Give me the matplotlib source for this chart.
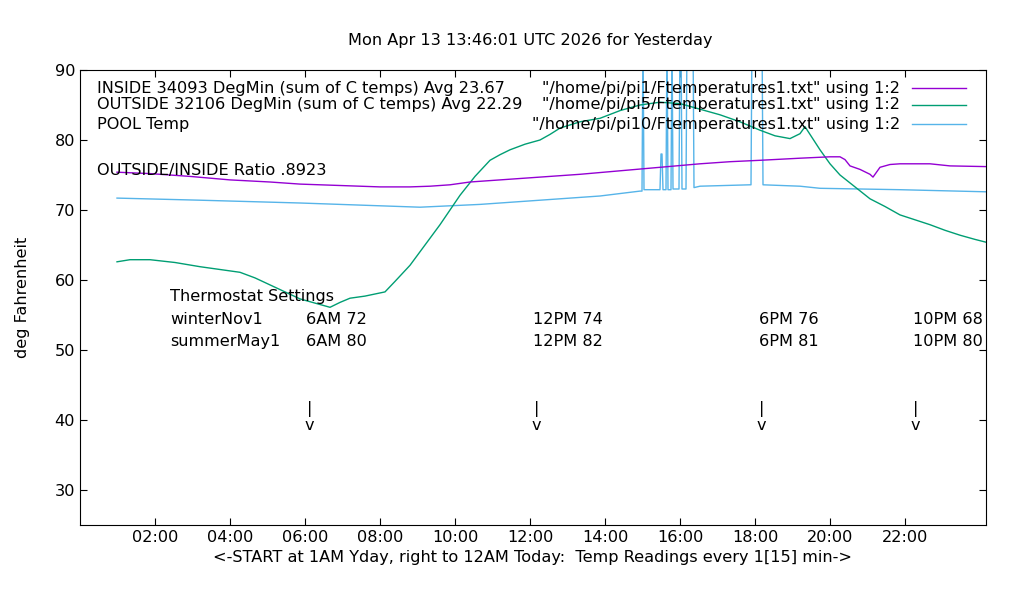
import matplotlib
matplotlib.use("Agg")
import matplotlib.pyplot as plt

def px2h(x):
    return (x - 80) / 37.5

# INSIDE (purple)
inside_px = [117,150,190,230,270,300,340,380,410,430,450,470,500,540,580,620,660,700,730,760,800,830,840,845,850,860,870,873,876,880,890,900,930,950,986]
inside_val = [75.4,75.2,74.8,74.3,74.0,73.7,73.5,73.3,73.3,73.4,73.6,74.0,74.3,74.7,75.1,75.6,76.1,76.6,76.9,77.1,77.4,77.6,77.6,77.2,76.3,75.8,75.1,74.7,75.3,76.1,76.5,76.6,76.6,76.3,76.2]

# OUTSIDE (teal)
outside_px = [117,130,150,175,200,220,240,255,270,285,300,315,330,340,350,365,385,395,410,425,440,450,460,475,490,500,510,525,540,550,560,580,600,620,640,660,680,700,720,740,760,775,790,800,805,810,820,830,840,855,870,885,900,915,930,945,960,975,986]
outside_val = [62.6,62.9,62.9,62.5,61.9,61.5,61.1,60.3,59.3,58.3,57.3,56.7,56.1,56.8,57.4,57.7,58.3,59.8,62.1,65.0,67.9,70.0,72.1,74.8,77.1,77.9,78.6,79.4,80.0,80.8,81.7,82.6,83.1,84.2,85.0,85.4,85.2,84.4,83.6,82.6,81.4,80.6,80.2,80.9,81.9,80.8,78.6,76.6,75.0,73.3,71.6,70.5,69.3,68.6,67.9,67.1,66.4,65.8,65.4]

# POOL (blue) with sensor spikes
pool_px = [117,200,300,360,420,480,540,600,640,642,643,644,660,661,662,663,666,667,668,671,672,673,679,680,681,682,686,687,693,694,700,750,751,752,762,763,800,820,900,986]
pool_val = [71.7,71.4,71.0,70.7,70.4,70.8,71.4,72.0,72.7,72.7,95.0,72.9,72.9,78.0,78.0,72.9,72.9,95.0,72.9,72.9,95.0,73.0,73.0,95.0,95.0,73.0,73.0,95.0,95.0,73.2,73.4,73.6,73.6,95.0,95.0,73.6,73.4,73.1,72.9,72.6]

inside_h = [px2h(x) for x in inside_px]
outside_h = [px2h(x) for x in outside_px]
pool_h = [px2h(x) for x in pool_px]

xticks = [2, 4, 6, 8, 10, 12, 14, 16, 18, 20, 22]
xlabels = ["02:00", "04:00", "06:00", "08:00", "10:00", "12:00", "14:00", "16:00", "18:00", "20:00", "22:00"]
yticks = [30, 40, 50, 60, 70, 80, 90]

FS = 11.6
fig = plt.figure(figsize=(10.2, 6.0), dpi=100)
ax = fig.add_axes([80/1020, 75/600, 906/1020, 455/600])
ax.set_xlim(0, px2h(986))
ax.set_ylim(25, 90)

ax.plot(pool_h, pool_val, color="#56b4e9", lw=1)
ax.plot(outside_h, outside_val, color="#009e73", lw=1)
ax.plot(inside_h, inside_val, color="#9400d3", lw=1)

ax.set_xticks(xticks)
ax.set_xticklabels(xlabels)
ax.set_yticks(yticks)
ax.tick_params(direction="in", top=True, right=True, labelsize=FS, length=5)
ax.set_xlabel("<-START at 1AM Yday, right to 12AM Today:  Temp Readings every 1[15] min->", fontsize=FS)
ax.set_ylabel("deg Fahrenheit", fontsize=FS, labelpad=18)
fig.text(0.52, 1 - 41/600, "Mon Apr 13 13:46:01 UTC 2026 for Yesterday", ha="center", va="center", fontsize=FS)

def ftext(x, y, s, ha="left"):
    fig.text(x/1020, 1 - y/600, s, ha=ha, va="center", fontsize=FS)

ftext(97, 88, "INSIDE 34093 DegMin (sum of C temps) Avg 23.67")
ftext(97, 105, "OUTSIDE 32106 DegMin (sum of C temps) Avg 22.29")
ftext(97, 124, "POOL Temp")
ftext(97, 170, "OUTSIDE/INSIDE Ratio .8923")
ftext(900, 88, "\"/home/pi/pi1/Ftemperatures1.txt\" using 1:2", ha="right")
ftext(900, 105, "\"/home/pi/pi5/Ftemperatures1.txt\" using 1:2", ha="right")
ftext(900, 124, "\"/home/pi/pi10/Ftemperatures1.txt\" using 1:2", ha="right")
for y, c in [(88, "#9400d3"), (105, "#009e73"), (124, "#56b4e9")]:
    fig.add_artist(plt.Line2D([912/1020, 966/1020], [1 - y/600, 1 - y/600], color=c, lw=1))

ftext(170, 297, "Thermostat Settings")
ftext(170, 320, "winterNov1")
ftext(170, 342, "summerMay1")
for x, w, s in [(306, "6AM 72", "6AM 80"), (533, "12PM 74", "12PM 82"), (759, "6PM 76", "6PM 81"), (913, "10PM 68", "10PM 80")]:
    ftext(x, 320, w)
    ftext(x, 342, s)
for x in [310, 537, 762, 916]:
    ftext(x - 3, 409, "|")
    ftext(x - 5, 425, "v")

fig.savefig("out.png", dpi=100)
